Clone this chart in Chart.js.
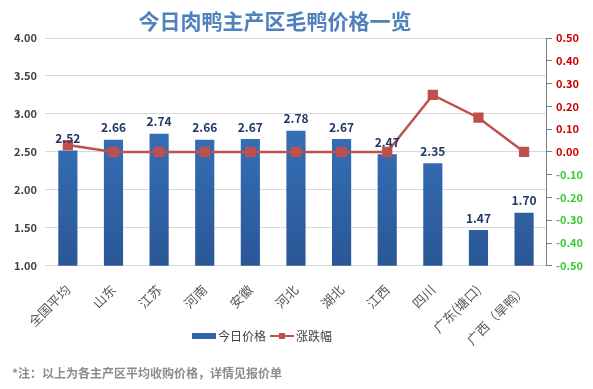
<!DOCTYPE html>
<html>
<head>
<meta charset="utf-8">
<script src="https://cdn.jsdelivr.net/npm/chart.js@4"></script>
<style>
  html, body { margin: 0; padding: 0; background: #fff; }
  #wrap { width: 593px; height: 389px; }
</style>
</head>
<body>
<div id="wrap"><canvas id="myChart" width="593" height="389"></canvas></div>
<script>
const regions = ['全国平均', '山东', '江苏', '河南', '安徽', '河北', '湖北', '江西', '四川', '广东(塘口)', '广西（旱鸭）'];
const prices = [2.52, 2.66, 2.74, 2.66, 2.67, 2.78, 2.67, 2.47, 2.35, 1.47, 1.70];
const changes = [0.03, 0, 0, 0, 0, 0, 0, 0, 0.25, 0.15, 0];

const FONT = '"Noto Sans CJK SC", "Noto Sans", sans-serif';

// value labels on top of the bars
const barLabels = {
    id: 'barLabels',
    afterDatasetsDraw(chart) {
        const ctx = chart.ctx;
        const meta = chart.getDatasetMeta(1);
        ctx.save();
        ctx.font = 'bold 12px ' + FONT;
        ctx.fillStyle = '#1f3864';
        ctx.textAlign = 'center';
        ctx.textBaseline = 'bottom';
        meta.data.forEach((bar, i) => {
            ctx.fillText(prices[i].toFixed(2), bar.x, bar.y - 6);
        });
        ctx.restore();
    }
};

// title, legend and footnote drawn by hand so they can sit where the original has them
const extras = {
    id: 'extras',
    afterDraw(chart) {
        const ctx = chart.ctx;
        ctx.save();
        // title
        ctx.font = 'bold 21px ' + FONT;
        ctx.fillStyle = '#4f81bd';
        ctx.textAlign = 'center';
        ctx.textBaseline = 'middle';
        ctx.fillText('今日肉鸭主产区毛鸭价格一览', 275, 21);

        // legend
        ctx.font = '12px ' + FONT;
        ctx.textAlign = 'left';
        ctx.fillStyle = '#2f65a8';
        ctx.fillRect(192, 333, 24, 6);
        ctx.fillStyle = '#404040';
        ctx.fillText('今日价格', 218, 336);
        ctx.strokeStyle = '#c0504d';
        ctx.lineWidth = 2;
        ctx.beginPath();
        ctx.moveTo(270, 336);
        ctx.lineTo(294, 336);
        ctx.stroke();
        ctx.fillStyle = '#c0504d';
        ctx.fillRect(279, 333, 6, 6);
        ctx.fillStyle = '#404040';
        ctx.fillText('涨跌幅', 296, 336);

        // footnote
        ctx.font = 'bold 12px ' + FONT;
        ctx.fillStyle = '#8c8c8c';
        ctx.fillText('*注：以上为各主产区平均收购价格，详情见报价单', 12, 373);
        ctx.restore();
    }
};

function barGradient(context) {
    const area = context.chart.chartArea;
    if (!area) return '#3570b8';
    const g = context.chart.ctx.createLinearGradient(0, area.top, 0, area.bottom);
    g.addColorStop(0, '#3d7fcc');
    g.addColorStop(1, '#2a5796');
    return g;
}

new Chart('myChart', {
    data: {
        labels: regions,
        datasets: [{
            type: 'line',
            label: '涨跌幅',
            data: changes,
            yAxisID: 'y1',
            borderColor: '#c0504d',
            backgroundColor: '#c0504d',
            borderWidth: 2.5,
            pointStyle: 'rect',
            pointRadius: 5.5,
            pointHoverRadius: 5.5,
            lineTension: 0,
            fill: false,
            order: 0
        }, {
            type: 'bar',
            label: '今日价格',
            data: prices,
            yAxisID: 'y',
            backgroundColor: barGradient,
            barPercentage: 0.42,
            categoryPercentage: 1,
            order: 1
        }]
    },
    options: {
        responsive: false,
        animation: false,
        layout: { padding: { left: 6, right: 6, top: 38, bottom: 33 } },
        plugins: {
            title: { display: false },
            legend: { display: false },
            tooltip: { enabled: false }
        },
        scales: {
            x: {
                grid: { display: false },
                border: { color: '#d9d9d9' },
                ticks: {
                    color: '#595959',
                    font: { family: FONT, size: 13 },
                    minRotation: 45,
                    maxRotation: 45,
                    padding: 8,
                    autoSkip: false
                }
            },
            y: {
                position: 'left',
                min: 1,
                max: 4,
                ticks: {
                    stepSize: 0.5,
                    color: '#404040',
                    font: { family: FONT, size: 11, weight: 'bold' },
                    padding: 8,
                    callback: v => v.toFixed(2)
                },
                grid: { color: '#d9d9d9', drawTicks: false },
                border: { display: false }
            },
            y1: {
                position: 'right',
                min: -0.5,
                max: 0.5,
                ticks: {
                    stepSize: 0.1,
                    font: { family: FONT, size: 11, weight: 'bold' },
                    color: ctx => ctx.tick.value < -0.001 ? '#33cc33' : '#cc0000',
                    padding: 4,
                    callback: v => v.toFixed(2)
                },
                grid: { drawOnChartArea: false, color: '#7f7f7f', tickLength: 5 },
                border: { color: '#7f7f7f' }
            }
        }
    },
    plugins: [barLabels, extras]
});
</script>
</body>
</html>
